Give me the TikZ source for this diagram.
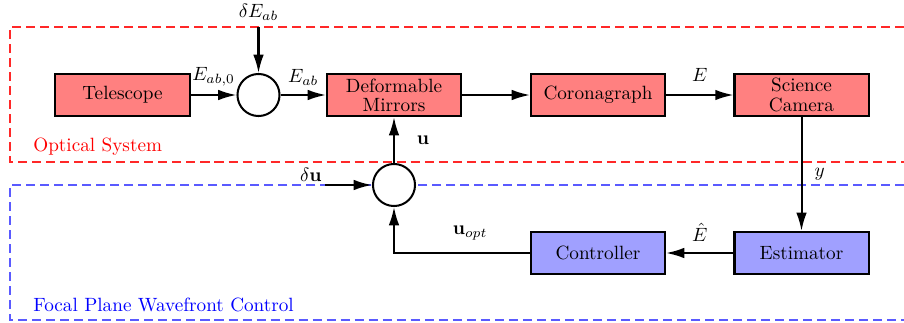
\documentclass[tikz,border=0pt]{standalone}
\usetikzlibrary{arrows.meta}
\definecolor{boxred}{RGB}{255,128,128}
\definecolor{boxblue}{RGB}{160,160,255}
\definecolor{regred}{RGB}{255,40,40}
\definecolor{regblue}{RGB}{90,90,255}
\begin{document}
\begin{tikzpicture}[x=0.5208pt,y=-0.5208pt,
  blockred/.style={draw=black,line width=1.05pt,fill=boxred,minimum width=69.8pt,minimum height=22pt,inner sep=1pt,align=center},
  blockblue/.style={draw=black,line width=1.05pt,fill=boxblue,minimum width=69.8pt,minimum height=22pt,inner sep=1pt,align=center},
  sumnode/.style={draw=black,line width=1.05pt,circle,fill=white,minimum size=21.9pt,inner sep=0pt},
  sig/.style={line width=1.05pt,-{Latex[length=9.5pt,width=5.5pt]}},
  region/.style={line width=0.6pt,dash pattern=on 4.7pt off 2.6pt}
]
\useasboundingbox (0,0) rectangle (904,322);
% regions
\draw[region,regred] (904,27) -- (10,27) -- (10,162) -- (904,162);
\draw[region,regblue] (904,185) -- (10,185) -- (10,320) -- (904,320);
\node[anchor=west,text=red,inner sep=0pt] (optlbl) at (33,147) {Optical System};
\node[anchor=west,text=blue,inner sep=0pt] (fpwclbl) at (33,305) {Focal Plane Wavefront Control};
% blocks
\node[blockred] (tel) at (122.5,95) {Telescope};
\node[sumnode] (s1) at (258.5,95) {};
\node[blockred] (dm) at (394,95) {Deformable\\[-2pt]Mirrors};
\node[blockred] (cor) at (598,95) {Coronagraph};
\node[blockred] (sci) at (801.5,95) {Science\\[-2pt]Camera};
\node[sumnode] (s2) at (394,185) {};
\node[blockblue] (ctl) at (598,253) {Controller};
\node[blockblue] (est) at (801.5,253) {Estimator};
\node (dE) at (258.5,12) {$\delta E_{ab}$};
\coordinate (dus) at (325,185);
\node[anchor=south east,inner sep=1pt] (dulbl) at (324,184) {$\delta\mathbf{u}$};
% connectors
\draw[sig] (dE) -- (s1);
\draw[sig] (tel) -- node[above,yshift=1pt] {$E_{ab,0}$} (s1);
\draw[sig] (s1) -- node[above,yshift=1pt] {$E_{ab}$} (dm);
\draw[sig] (dm) -- (cor);
\draw[sig] (cor) -- node[above,yshift=3pt] {$E$} (sci);
\draw[sig] (sci) -- node[right,xshift=3pt] {$y$} (est);
\draw[sig] (est) -- node[above,yshift=2pt] {$\hat{E}$} (ctl);
\draw[sig] (ctl) -| node[pos=0.22,above,yshift=3pt] {$\mathbf{u}_{opt}$} (s2);
\draw[sig] (dus) -- (s2);
\draw[sig] (s2) -- node[right,xshift=8pt] {$\mathbf{u}$} (dm);
\end{tikzpicture}
\end{document}
